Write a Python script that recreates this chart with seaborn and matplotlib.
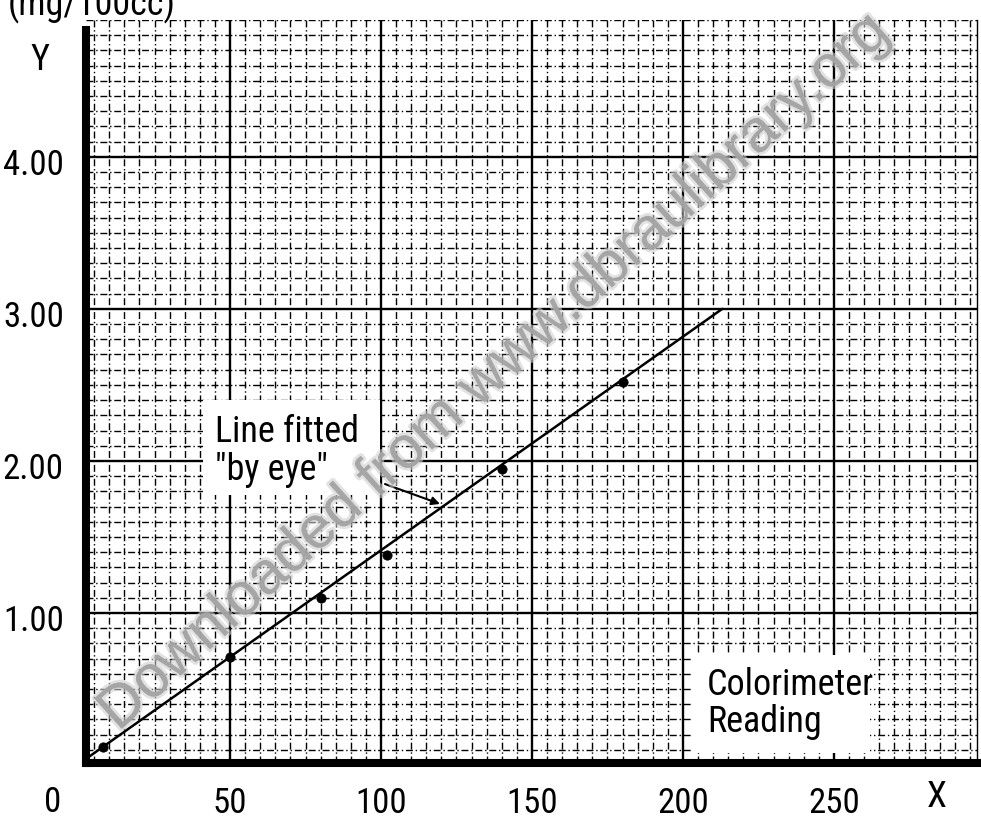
import numpy as np
import matplotlib
matplotlib.use("Agg")
import matplotlib.pyplot as plt
import matplotlib.transforms as mtransforms
import matplotlib.patheffects as pe
from matplotlib.patches import Rectangle
import seaborn as sns

# ---- data ----
reading = [8, 50, 80, 102, 140, 180]            # colorimeter reading (X)
conc = [0.12, 0.71, 1.10, 1.38, 1.95, 2.52]     # mg / 100cc (Y)
fit_x = [3, 213]                                # line fitted "by eye" end points
fit_y = [0.05, 3.00]
x_ticks = [50, 100, 150, 200, 250]
x_tick_labels = ["50", "100", "150", "200", "250"]
y_ticks = [1, 2, 3, 4]
y_tick_labels = ["1.00", "2.00", "3.00", "4.00"]

W, H = 981, 822
sns.set_theme(style="white")
FAM = ['Roboto Condensed', 'Archivo Narrow', 'PT Sans Narrow',
       'Liberation Sans Narrow', 'DejaVu Sans']
plt.rcParams['font.family'] = FAM
for k in ["text.color", "xtick.color", "ytick.color", "axes.labelcolor"]:
    plt.rcParams[k] = "black"

fig = plt.figure(figsize=(W / 100, H / 100), dpi=100)
fig.patch.set_facecolor("white")


def fx(px):
    return px / W


def fy(py):
    return 1 - py / H


ax_left, ax_right, ax_top, ax_bottom = 86, 977, 20, 763
ax = fig.add_axes([fx(ax_left), fy(ax_bottom),
                   fx(ax_right) - fx(ax_left), fy(ax_top) - fy(ax_bottom)])
x0px, xscale = 79, 3.02
y0px, yscale = 765, 152.6
ax.set_xlim((ax_left - x0px) / xscale, (ax_right - x0px) / xscale)
ax.set_ylim((y0px - ax_bottom) / yscale, (y0px - ax_top) / yscale)


def dx(px):
    return (px - x0px) / xscale


def dy(py):
    return (y0px - py) / yscale


fs = 26
tfs = 25
# graph-paper grid
ax.set_xticks(x_ticks)
ax.set_xticklabels(x_tick_labels, fontsize=tfs)
ax.set_yticks(y_ticks)
ax.set_yticklabels(y_tick_labels, fontsize=tfs)
ax.set_xticks(np.arange(5, 300, 5), minor=True)
ax.set_yticks(np.arange(0.1, 4.9, 0.1), minor=True)
ax.grid(which="major", color="black", lw=1.7, ls="-")
ax.grid(which="minor", color="black", lw=1.0, ls=(0, (5, 2, 1, 2)))
ax.set_axisbelow(True)
ax.tick_params(which="both", length=0)
ax.tick_params(axis="x", pad=17, colors="black")
ax.tick_params(axis="y", pad=16, colors="black")
offset = mtransforms.ScaledTranslation(0, -0.05, fig.dpi_scale_trans)
for lab in ax.get_yticklabels():
    lab.set_transform(lab.get_transform() + offset)

for side in ["left", "bottom"]:
    ax.spines[side].set_color("black")
    ax.spines[side].set_linewidth(5.8)
    ax.spines[side].set_capstyle("projecting")
ax.spines["left"].set_bounds(ax.get_ylim()[0], dy(27))
ax.spines["top"].set_visible(False)
ax.spines["right"].set_color("black")
ax.spines["right"].set_linewidth(1.0)

# marks
sns.lineplot(x=fit_x, y=fit_y, color="black", lw=1.8, ax=ax, zorder=3)
sns.scatterplot(x=reading, y=conc, s=45, color="black", edgecolor="black",
                ax=ax, zorder=4)

ax.annotate("", xy=(dx(440), dy(503)), xytext=(dx(385), dy(483)),
            arrowprops=dict(arrowstyle="-|>", color="black", lw=1.5,
                            mutation_scale=12, shrinkA=0, shrinkB=0))

# white patches behind the notes
for (x1, y1, x2, y2) in [(203, 400, 380, 495), (693, 655, 870, 753)]:
    fig.patches.append(Rectangle((fx(x1), fy(y2)), fx(x2) - fx(x1), fy(y1) - fy(y2),
                                 transform=fig.transFigure, facecolor="white",
                                 edgecolor="none", zorder=1))

fig.text(fx(215), fy(442), "Line fitted", fontsize=fs, va="baseline", ha="left")
fig.text(fx(215), fy(480), '"by eye"', fontsize=fs, va="baseline", ha="left")
fig.text(fx(707), fy(695), "Colorimeter", fontsize=fs, va="baseline", ha="left")
fig.text(fx(707), fy(732), "Reading", fontsize=fs, va="baseline", ha="left")
fig.text(fx(8), fy(15), "(mg/100cc)", fontsize=fs, va="baseline", ha="left")
fig.text(fx(40), fy(60), "Y", fontsize=fs, va="center", ha="center")
fig.text(fx(937), fy(797), "X", fontsize=fs, va="center", ha="center")
fig.text(fx(53), fy(802), "0", fontsize=tfs, va="center", ha="center")

# watermark
fig.text(fx(495), fy(372), "Downloaded from www.dbraulibrary.org", rotation=42,
         rotation_mode="anchor", ha="center", va="center", fontsize=43,
         color="#a0a0a0", alpha=0.85, family=["Liberation Sans", "DejaVu Sans"],
         zorder=6,
         path_effects=[pe.withStroke(linewidth=4, foreground="#d0d0d0", alpha=0.6)])

fig.savefig("out.png", dpi=100, facecolor="white")
